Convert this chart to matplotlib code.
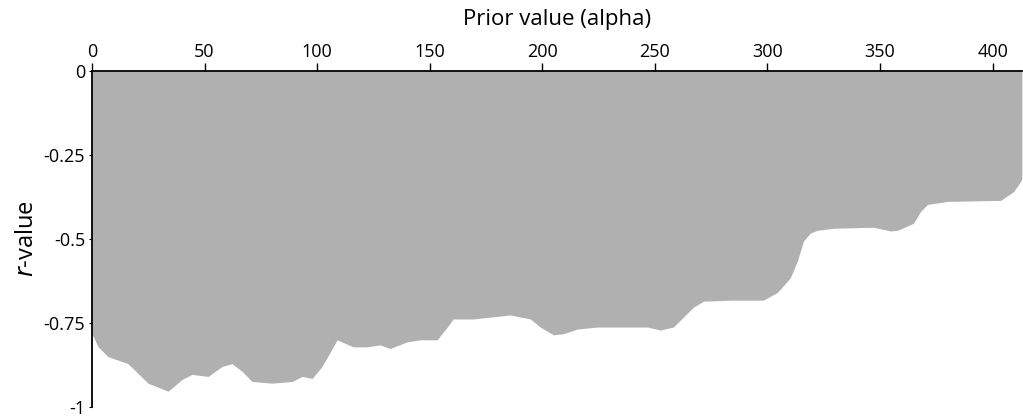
import numpy as np
import matplotlib.pyplot as plt

plt.rcParams.update({"font.family": ["Open Sans", "DejaVu Sans"]})

# boundary of the shaded region
alpha = [0, 0.6, 2.8, 7.1, 16, 24.9, 33.8, 40, 44.4, 51.6, 57.8, 62.2, 66.7,
         71.1, 80, 88.9, 93.3, 97.8, 102.2, 108.9, 116, 122.2, 128, 132.4,
         140, 145.8, 153.3, 157.8, 160.4, 169.3, 185.8, 194.7, 199.1, 204.9,
         209.3, 215.6, 224.4, 234.7, 246.7, 252.4, 258.2, 262.7, 267.1, 271.6,
         283.6, 298.2, 304.4, 310.2, 313.3, 316, 319.1, 322.2, 329.3, 347.1,
         354.7, 357.8, 364.9, 368, 371.1, 380, 403.6, 409.3, 412.4, 413]
r_value = [-0.782, -0.791, -0.821, -0.85, -0.871, -0.929, -0.953, -0.918,
           -0.903, -0.909, -0.879, -0.871, -0.894, -0.924, -0.929, -0.924,
           -0.909, -0.915, -0.879, -0.8, -0.821, -0.821, -0.815, -0.826,
           -0.806, -0.8, -0.8, -0.762, -0.738, -0.738, -0.726, -0.738, -0.762,
           -0.785, -0.782, -0.768, -0.762, -0.762, -0.762, -0.771, -0.762,
           -0.732, -0.703, -0.685, -0.682, -0.682, -0.659, -0.615, -0.565,
           -0.506, -0.482, -0.474, -0.468, -0.465, -0.476, -0.474, -0.453,
           -0.418, -0.397, -0.388, -0.385, -0.359, -0.329, -0.32]

x_ticks = [0, 50, 100, 150, 200, 250, 300, 350, 400]
y_ticks = [0, -0.25, -0.5, -0.75, -1]
y_labels = ["0", "-0.25", "-0.5", "-0.75", "-1"]

fig = plt.figure(figsize=(10.23, 4.18), dpi=100)
ax = fig.add_axes([0.0899, 0.0263, 0.909, 0.8038])

ax.fill_between(alpha, 0, r_value, color="#b0b0b0", linewidth=0)

ax.set_xlim(0, 413)
ax.set_ylim(-1, 0)
ax.xaxis.tick_top()
ax.xaxis.set_label_position("top")
ax.set_xticks(x_ticks)
ax.set_yticks(y_ticks)
ax.set_yticklabels(y_labels)
ax.tick_params(axis="x", direction="out", length=6, width=1, labelsize=13, pad=1)
ax.tick_params(axis="y", direction="out", length=2, width=0.8, labelsize=13, pad=3)

for s in ["bottom", "right"]:
    ax.spines[s].set_visible(False)
ax.spines["top"].set_linewidth(1.3)
ax.spines["left"].set_linewidth(1.3)

ax.set_xlabel("Prior value (alpha)", fontsize=16, labelpad=13)
ax.set_ylabel("$\\mathit{r}$-value", fontsize=17, labelpad=3)

fig.savefig("out.png", dpi=100)
